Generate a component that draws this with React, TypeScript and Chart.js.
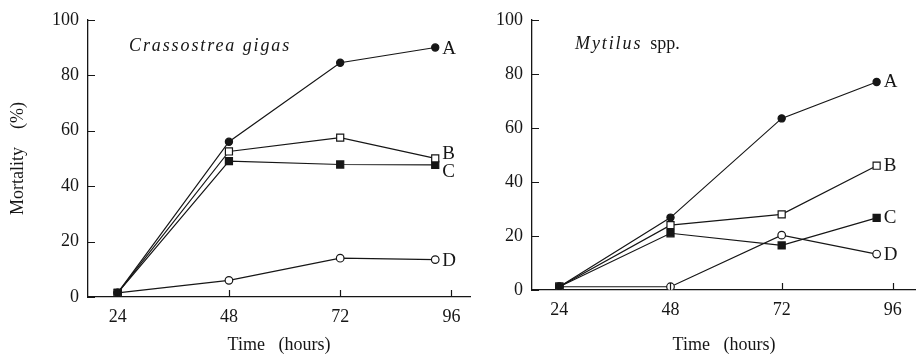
import React, { useEffect, useRef } from "react";
import { Chart, registerables } from "chart.js";

Chart.register(...registerables);

// ---- data ----
const hours = [24, 48, 72, 92.5];
const xTickValues = [24, 48, 72, 96];
const seriesNames = ["A", "B", "C", "D"];

const gigasA = [1.5, 56, 84.5, 90];
const gigasB = [1.5, 52.5, 57.5, 50];
const gigasC = [1.5, 49, 47.8, 47.7];
const gigasD = [1.5, 6, 14, 13.5];

const mytilusA = [1.2, 26.8, 63.5, 77];
const mytilusB = [1.2, 24, 28, 46];
const mytilusC = [1.2, 21, 16.5, 26.7];
const mytilusD = [1.2, 1.2, 20.3, 13.3];

const INK = "#161616";
const FONT = "'Liberation Serif', 'Times New Roman', serif";

const markerStyles = [
  { pointStyle: "circle", radius: 3.6, fill: INK },
  { pointStyle: "rect", radius: 5, fill: "#ffffff" },
  { pointStyle: "rect", radius: 5, fill: INK },
  { pointStyle: "circle", radius: 3.8, fill: "#ffffff" },
];

type PanelCfg = {
  width: number;
  series: number[][];
  xMin: number;
  xMax: number;
  padTop: number;
  padRight: number;
  yWidth: number;
  xHeight: number;
  showYTitle: boolean;
  titleItalic: string;
  titlePlain: string;
  titleDx: number;
  titleDy: number;
  labelDy: number[];
};

const annotPlugin = {
  id: "annot",
  afterDraw(chart: any, _args: any, opts: any) {
    const cfg: PanelCfg = opts.cfg;
    const ctx = chart.ctx;
    const area = chart.chartArea;
    const xs = chart.scales.x;
    const ys = chart.scales.y;
    ctx.save();
    // inward ticks
    ctx.strokeStyle = INK;
    ctx.lineWidth = 1.2;
    ctx.beginPath();
    xTickValues.forEach((v) => {
      const px = Math.round(xs.getPixelForValue(v)) + 0.5;
      ctx.moveTo(px, area.bottom);
      ctx.lineTo(px, area.bottom - 7);
    });
    ys.ticks.forEach((t: any) => {
      const py = Math.round(ys.getPixelForValue(t.value)) + 0.5;
      ctx.moveTo(area.left, py);
      ctx.lineTo(area.left + 7, py);
    });
    ctx.stroke();

    // series labels
    ctx.fillStyle = INK;
    ctx.font = `19px ${FONT}`;
    ctx.textAlign = "left";
    ctx.textBaseline = "middle";
    seriesNames.forEach((name, i) => {
      const meta = chart.getDatasetMeta(i);
      const pt = meta.data[meta.data.length - 1];
      ctx.fillText(name, pt.x + 7, pt.y + cfg.labelDy[i]);
    });

    // species title
    const tx = area.left + cfg.titleDx;
    const ty = area.top + cfg.titleDy;
    ctx.font = `italic 18px ${FONT}`;
    (ctx as any).letterSpacing = "1.9px";
    ctx.fillText(cfg.titleItalic, tx, ty);
    const w = ctx.measureText(cfg.titleItalic).width;
    (ctx as any).letterSpacing = "0px";
    if (cfg.titlePlain) {
      ctx.font = `18px ${FONT}`;
      ctx.fillText(cfg.titlePlain, tx + w + 8, ty);
    }
    ctx.restore();
  },
};

function Panel({ cfg }: { cfg: PanelCfg }) {
  const ref = useRef<HTMLCanvasElement>(null);
  useEffect(() => {
    if (!ref.current) return;
    const datasets = cfg.series.map((vals, i) => ({
      label: seriesNames[i],
      data: vals.map((v, j) => ({ x: hours[j], y: v })),
      borderColor: INK,
      borderWidth: 1.2,
      pointStyle: markerStyles[i].pointStyle,
      pointRadius: markerStyles[i].radius,
      pointBackgroundColor: markerStyles[i].fill,
      pointBorderColor: INK,
      pointBorderWidth: 1.2,
      fill: false,
      tension: 0,
    }));
    const chart = new Chart(ref.current, {
      type: "line",
      data: { datasets },
      plugins: [annotPlugin],
      options: {
        responsive: false,
        animation: false,
        events: [],
        layout: { padding: { top: cfg.padTop, right: cfg.padRight, bottom: 0, left: 0 } },
        plugins: {
          legend: { display: false },
          tooltip: { enabled: false },
          annot: { cfg },
        } as any,
        scales: {
          x: {
            type: "linear",
            min: cfg.xMin,
            max: cfg.xMax,
            afterBuildTicks: (s: any) => {
              s.ticks = xTickValues.map((v) => ({ value: v }));
            },
            afterFit: (s: any) => {
              s.height = cfg.xHeight;
            },
            grid: { display: true, drawOnChartArea: false, drawTicks: false },
            border: { display: true, color: INK, width: 1.3 },
            ticks: {
              padding: 9,
              color: INK,
              font: { family: FONT, size: 18 },
              maxRotation: 0,
              autoSkip: false,
            },
            title: {
              display: true,
              text: "Time   (hours)",
              color: INK,
              font: { family: FONT, size: 18 },
              padding: { top: 0, bottom: 1.7 },
            },
          },
          y: {
            type: "linear",
            min: 0,
            max: 100,
            afterFit: (s: any) => {
              s.width = cfg.yWidth;
            },
            grid: { display: true, drawOnChartArea: false, drawTicks: false },
            border: { display: true, color: INK, width: 1.3 },
            ticks: {
              stepSize: 20,
              padding: 9,
              color: INK,
              font: { family: FONT, size: 18 },
            },
            title: {
              display: cfg.showYTitle,
              text: "Mortality    (%)",
              color: INK,
              font: { family: FONT, size: 18 },
              padding: { top: 7, bottom: 0 },
            },
          },
        },
      } as any,
    });
    return () => chart.destroy();
  }, [cfg]);
  return <canvas ref={ref} width={cfg.width} height={358} style={{ display: "block", width: cfg.width, height: 358 }} />;
}

const leftCfg: PanelCfg = {
  width: 480,
  series: [gigasA, gigasB, gigasC, gigasD],
  xMin: 17.6,
  xMax: 100,
  padTop: 18,
  padRight: 10,
  yWidth: 88,
  xHeight: 61,
  showYTitle: true,
  titleItalic: "Crassostrea gigas",
  titlePlain: "",
  titleDx: 41,
  titleDy: 26,
  labelDy: [1, -4, 7, 1],
};

const rightCfg: PanelCfg = {
  width: 456,
  series: [mytilusA, mytilusB, mytilusC, mytilusD],
  xMin: 18.1,
  xMax: 101,
  padTop: 14,
  padRight: 10,
  yWidth: 62,
  xHeight: 68,
  showYTitle: false,
  titleItalic: "Mytilus",
  titlePlain: "spp.",
  titleDx: 43,
  titleDy: 24,
  labelDy: [0, 0, 0, 1],
};

export default function App() {
  return (
    <div style={{ position: "absolute", left: 0, top: 0, width: 916, height: 358, background: "#fff", overflow: "hidden" }}>
      <div style={{ position: "absolute", left: 0, top: 0 }}>
        <Panel cfg={leftCfg} />
      </div>
      <div style={{ position: "absolute", left: 470, top: 0 }}>
        <Panel cfg={rightCfg} />
      </div>
    </div>
  );
}
